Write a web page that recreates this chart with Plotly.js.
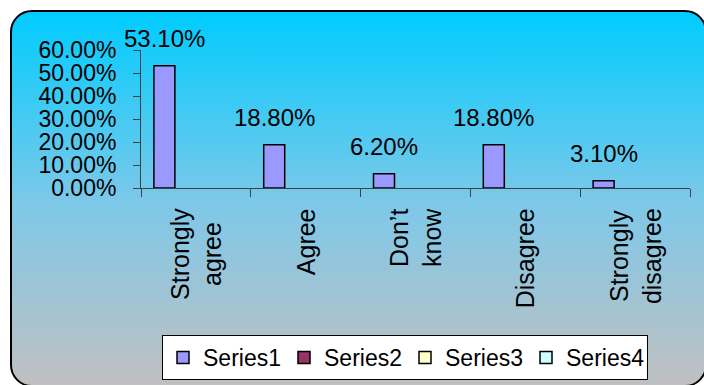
<!DOCTYPE html>
<html>
<head>
<meta charset="utf-8">
<script src="https://cdn.plot.ly/plotly-3.0.1.min.js"></script>
<style>
  html, body { margin: 0; padding: 0; background: #ffffff; }
  #frame {
    position: absolute; left: 10px; top: 10px; width: 697px; height: 377px;
    box-sizing: border-box; border: 2px solid #000000; border-radius: 22px;
    background: linear-gradient(to bottom, #00CCFF 0%, #7FC8E8 52%, #C0C0C0 100%);
  }
  #chart { position: absolute; left: 0; top: 0; width: 704px; height: 385px; }
</style>
</head>
<body>
<div id="frame"></div>
<div id="chart"></div>
<script>
// Survey responses (share of respondents)
const categories = ['Strongly agree', 'Agree', "Don\u2019t know", 'Disagree', 'Strongly disagree'];
const categoryLabels = ['Strongly<br>agree', 'Agree', 'Don\u2019t<br>know', 'Disagree', 'Strongly<br>disagree'];
const series1 = [0.531, 0.188, 0.062, 0.188, 0.031];
const series2 = [null, null, null, null, null];
const series3 = [null, null, null, null, null];
const series4 = [null, null, null, null, null];
const seriesNames = ['Series1', 'Series2', 'Series3', 'Series4'];
const yTicks = [0, 0.1, 0.2, 0.3, 0.4, 0.5, 0.6];

const W = 704, H = 385;
const margin = {l: 141, r: 14, t: 50, b: 197, pad: 0, autoexpand: false};
const bargap = 0.235;
const nGroups = 4;
const fontFamily = 'Liberation Sans, Arial, sans-serif';
const axisColor = '#404040';

const seriesValues = [series1, series2, series3, series4];
const seriesColors = ['#9999FF', '#993366', '#FFFFCC', '#CCFFFF'];

// Four side-by-side slots per category; each series owns one slot
const slotW = (1 - bargap) / nGroups;
const traces = seriesValues.map((vals, i) => ({
  type: 'bar',
  name: seriesNames[i],
  x: categories,
  y: vals,
  width: slotW,
  offset: -(1 - bargap) / 2 + i * slotW,
  marker: {color: seriesColors[i], line: {color: '#000000', width: 1.5}},
  hoverinfo: 'skip'
}));

// Value labels centred over the Series1 slot
const plotW = W - margin.l - margin.r;
const plotH = H - margin.t - margin.b;
const catW = plotW / categories.length;
const s1Shift = (-(1 - bargap) / 2 + slotW / 2) * catW;

const annotations = [];
series1.forEach((v, i) => {
  annotations.push({
    x: categories[i], y: v, xref: 'x', yref: 'y',
    text: (v * 100).toFixed(2) + '%',
    showarrow: false, xanchor: 'center', yanchor: 'bottom',
    xshift: s1Shift, yshift: 12,
    font: {family: fontFamily, size: 24, color: '#000000'}
  });
});
categories.forEach((c, i) => {
  annotations.push({
    x: c, y: 0, xref: 'x', yref: 'y',
    text: categoryLabels[i], textangle: -90, align: 'center',
    showarrow: false, xanchor: 'center', yanchor: 'top',
    yshift: -18,
    font: {family: fontFamily, size: 25, color: '#000000'}
  });
});

const layout = {
  width: W, height: H,
  margin: margin,
  paper_bgcolor: 'rgba(0,0,0,0)',
  plot_bgcolor: 'rgba(0,0,0,0)',
  font: {family: fontFamily, color: '#000000'},
  barmode: 'group',
  bargap: bargap,
  bargroupgap: 0,
  showlegend: true,
  xaxis: {
    type: 'category',
    range: [-0.5, categories.length - 0.5],
    automargin: false,
    showticklabels: false,
    ticks: 'outside', tickson: 'boundaries', ticklen: 8, tickwidth: 1, tickcolor: axisColor,
    showline: true, linecolor: axisColor, linewidth: 1,
    showgrid: false, zeroline: false, fixedrange: true
  },
  yaxis: {
    range: [0, 0.6],
    automargin: false,
    tickvals: yTicks,
    tickformat: '.2%',
    ticks: 'outside', ticklen: 7, tickwidth: 1, tickcolor: axisColor,
    ticklabelstandoff: 12,
    tickfont: {family: fontFamily, size: 23, color: '#000000'},
    showline: true, linecolor: axisColor, linewidth: 1,
    showgrid: false, zeroline: false, fixedrange: true
  },
  legend: {
    orientation: 'h',
    x: (162 - margin.l) / plotW,
    y: -(335 - (H - margin.b)) / plotH,
    xanchor: 'left', yanchor: 'top',
    bgcolor: '#FFFFFF', bordercolor: '#000000', borderwidth: 1,
    entrywidth: 76,
    font: {family: fontFamily, size: 23, color: '#000000'}
  },
  annotations: annotations
};

Plotly.newPlot('chart', traces, layout, {staticPlot: true, displayModeBar: false});
</script>
</body>
</html>
